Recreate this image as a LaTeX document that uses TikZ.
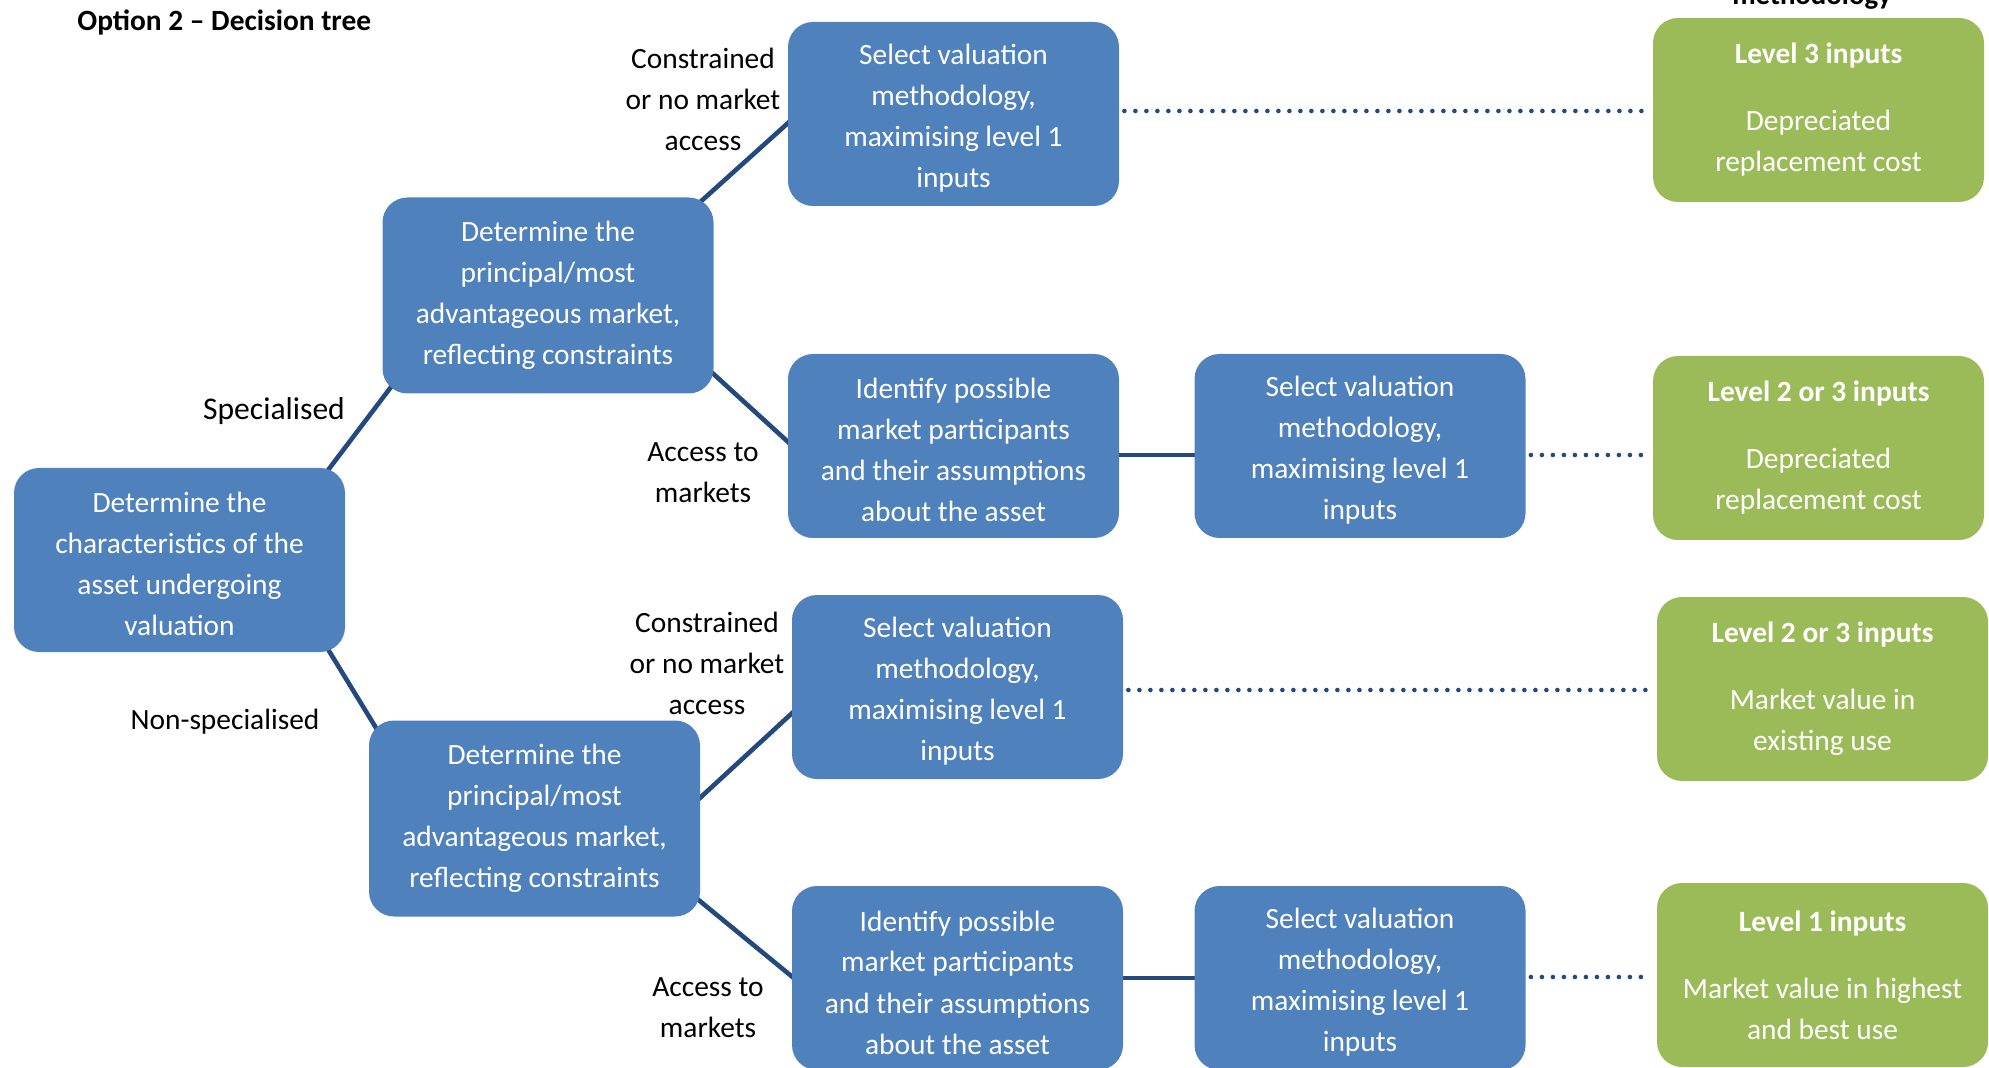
\documentclass[tikz,border=0pt]{standalone}
\usepackage{fontspec}
\setmainfont{Carlito}
\pgfdeclarelayer{background}
\pgfsetlayers{background,main}
\definecolor{boxblue}{RGB}{79,129,189}
\definecolor{boxgreen}{RGB}{155,187,89}
\definecolor{linkblue}{RGB}{36,73,125}
\newcommand\fstrut{\rule{0pt}{14.6pt}}
\begin{document}
\begin{tikzpicture}[x=0.5pt,y=-0.5pt,
  basebox/.style={rectangle, rounded corners=12.5pt, text=white, align=center,
    minimum width=165.5pt, minimum height=92pt, inner sep=0pt,
    font=\fontsize{14.7}{20.5}\selectfont},
  box/.style={basebox, fill=boxblue},
  tallbox/.style={box, minimum height=98pt},
  gbox/.style={basebox, fill=boxgreen},
  lbl/.style={align=center, text=black, inner sep=0pt, font=\fontsize{14.7}{20.5}\selectfont},
  conn/.style={draw=linkblue, line width=2.3pt},
  dotline/.style={draw=linkblue, line width=2.3pt, line cap=round, dash pattern=on 0pt off 5.5pt}
]
\useasboundingbox (0,0) rectangle (1989,1068);

% title and cut-off header
\node[anchor=base west, inner sep=0pt, font=\fontsize{14.7}{18}\selectfont\bfseries] (title) at (77,31) {Option 2 -- Decision tree};
\node[anchor=base, inner sep=0pt, font=\fontsize{14.4}{18}\selectfont\bfseries] (hdr) at (1812,5) {methodology};

% blue boxes
\node[box] (A) at (179.5,560) {\fstrut Determine the\\characteristics of the\\asset undergoing\\valuation};
\node[tallbox] (B) at (548,295.5) {Determine the\\principal/most\\advantageous market,\\reflecting constraints};
\node[box] (C) at (953.5,114) {\fstrut Select valuation\\methodology,\\maximising level 1\\inputs};
\node[box] (D) at (953.5,446) {\fstrut Identify possible\\market participants\\and their assumptions\\about the asset};
\node[box] (E) at (1360,446) {\fstrut Select valuation\\methodology,\\maximising level 1\\inputs};
\node[tallbox] (F) at (534.5,818.5) {Determine the\\principal/most\\advantageous market,\\reflecting constraints};
\node[box] (H) at (957.5,687) {\fstrut Select valuation\\methodology,\\maximising level 1\\inputs};
\node[box] (I) at (957.5,978) {\fstrut Identify possible\\market participants\\and their assumptions\\about the asset};
\node[box] (J) at (1360,978) {\fstrut Select valuation\\methodology,\\maximising level 1\\inputs};

% green boxes
\node[gbox] (G1) at (1818.5,110) {\textbf{Level 3 inputs}\\[13pt]Depreciated\\replacement cost};
\node[gbox] (G2) at (1818.5,448) {\textbf{Level 2 or 3 inputs}\\[13pt]Depreciated\\replacement cost};
\node[gbox] (G3) at (1822.5,689) {\textbf{Level 2 or 3 inputs}\\[13pt]Market value in\\existing use};
\node[gbox] (G4) at (1822.5,975) {\textbf{Level 1 inputs}\\[13pt]Market value in highest\\and best use};

% labels
\node[lbl] (l1) at (703,99) {Constrained\\or no market\\access};
\node[lbl] (l2) at (703,473) {Access to\\markets};
\node[lbl] (l3) at (707,663) {Constrained\\or no market\\access};
\node[lbl] (l4) at (708,1008) {Access to\\markets};
\node[lbl, font=\fontsize{15.8}{20}\selectfont] (l5) at (274,411) {Specialised};
\node[lbl] (l6) at (225,722) {Non-specialised};

% connectors
\begin{pgfonlayer}{background}
\draw[conn] ([shift={(-20,6)}]A.north east) -- ([shift={(12,-11)}]B.south west);
\draw[conn] ([shift={(-21,-9)}]A.south east) -- ([shift={(10,12)}]F.north west);
\draw[conn] ([shift={(-16,7)}]B.north east) -- ([shift={(6,4)}]C.west);
\draw[conn] ([shift={(-6,-25)}]B.south east) -- ([shift={(6,1)}]D.west);
\draw[conn] ([shift={(-6,-15.5)}]F.east) -- ([shift={(6,21)}]H.west);
\draw[conn] ([shift={(-8,-22)}]F.south east) -- ([shift={(7,4)}]I.west);
\draw[conn] ([shift={(-2,9)}]D.east) -- ([shift={(2,9)}]E.west);
\draw[conn] ([xshift=-2]I.east) -- ([xshift=2]J.west);
\end{pgfonlayer}

% dotted links
\draw[dotline] ([shift={(5,-3)}]C.east) -- ([shift={(-6,-3)}]C.east -| G1.west);
\draw[dotline] ([shift={(5,9)}]E.east) -- ([shift={(-6,9)}]E.east -| G2.west);
\draw[dotline] ([shift={(5,3)}]H.east) -- ([shift={(-6,3)}]H.east -| G3.west);
\draw[dotline] ([shift={(5,-1)}]J.east) -- ([shift={(-6,-1)}]J.east -| G4.west);
\end{tikzpicture}
\end{document}
